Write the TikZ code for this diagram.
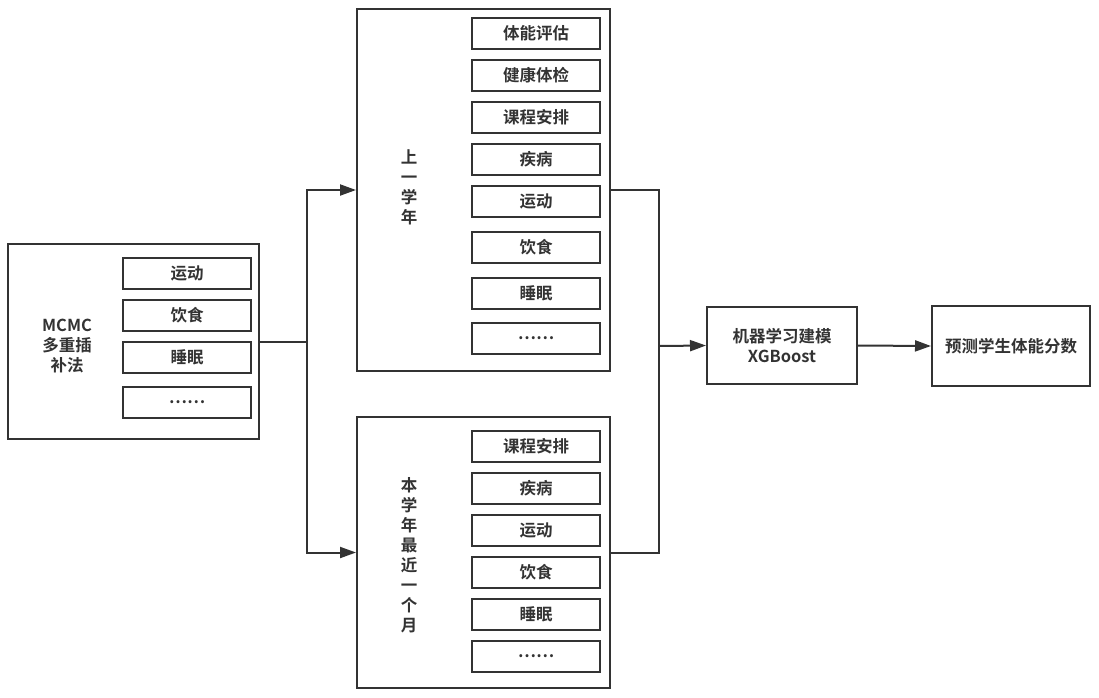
\documentclass[tikz,border=0pt]{standalone}
\usepackage{fontspec}
\setmainfont{Noto Sans CJK SC}[BoldFont={Noto Sans CJK SC Bold}]
\usetikzlibrary{arrows.meta}
\definecolor{ink}{HTML}{333333}
\begin{document}
\begin{tikzpicture}[x=1pt,y=-1pt,
  every node/.style={font=\fontsize{16.5}{20}\selectfont\bfseries, text=ink},
  box/.style={draw=ink, line width=2pt, inner sep=0pt, rectangle},
  item/.style={box, minimum width=128pt, minimum height=31pt},
  conn/.style={draw=ink, line width=2pt},
  arr/.style={conn, -{Triangle[length=16pt,width=11pt]}}]
\useasboundingbox[fill=white] (0,0) rectangle (1099,697);

% left box
\node[box, minimum width=251pt, minimum height=195pt] (left) at (133.5,341.5) {};
\node[align=center] (leftlab) at (67,346) {MCMC\\多重插\\补法};
\node[item] (l1) at (187,273.5) {运动};
\node[item] (l2) at (187,315.5) {饮食};
\node[item] (l3) at (187,357.5) {睡眠};
\node[item] (l4) at (187,402) {……};

% top box
\node[box, minimum width=253pt, minimum height=362pt] (top) at (483.5,190) {};
\node[align=center] (toplab) at (409,187) {上\\一\\学\\年};
\node[item] (t1) at (536,33.5) {体能评估};
\node[item] (t2) at (536,75.5) {健康体检};
\node[item] (t3) at (536,117.5) {课程安排};
\node[item] (t4) at (536,159.5) {疾病};
\node[item] (t5) at (536,201.5) {运动};
\node[item] (t6) at (536,247.5) {饮食};
\node[item] (t7) at (536,293) {睡眠};
\node[item] (t8) at (536,338) {……};

% bottom box
\node[box, minimum width=253pt, minimum height=271pt] (bot) at (483.5,552.5) {};
\node[align=center] (botlab) at (409,555) {本\\学\\年\\最\\近\\一\\个\\月};
\node[item] (b1) at (536,446.5) {课程安排};
\node[item] (b2) at (536,488.5) {疾病};
\node[item] (b3) at (536,530.5) {运动};
\node[item] (b4) at (536,572.5) {饮食};
\node[item] (b5) at (536,614.5) {睡眠};
\node[item] (b6) at (536,656.5) {……};

% model and result
\node[box, minimum width=150pt, minimum height=77pt, align=center] (ml) at (782,345.5) {机器学习建模\\XGBoost};
\node[box, minimum width=158pt, minimum height=80pt] (res) at (1011,346) {预测学生体能分数};

% connectors
\coordinate (j1) at (307,342);
\coordinate (j2) at (659,346);
\draw[conn] (left.east |- j1) -- (j1);
\draw[arr] (j1) |- (top.west);
\draw[arr] (j1) |- (bot.west);
\draw[conn] (top.east) -| (j2);
\draw[conn] (bot.east) -| (j2);
\draw[arr] (j2) -- (ml.west);
\draw[arr] (ml.east) -- (res.west);
\end{tikzpicture}
\end{document}
